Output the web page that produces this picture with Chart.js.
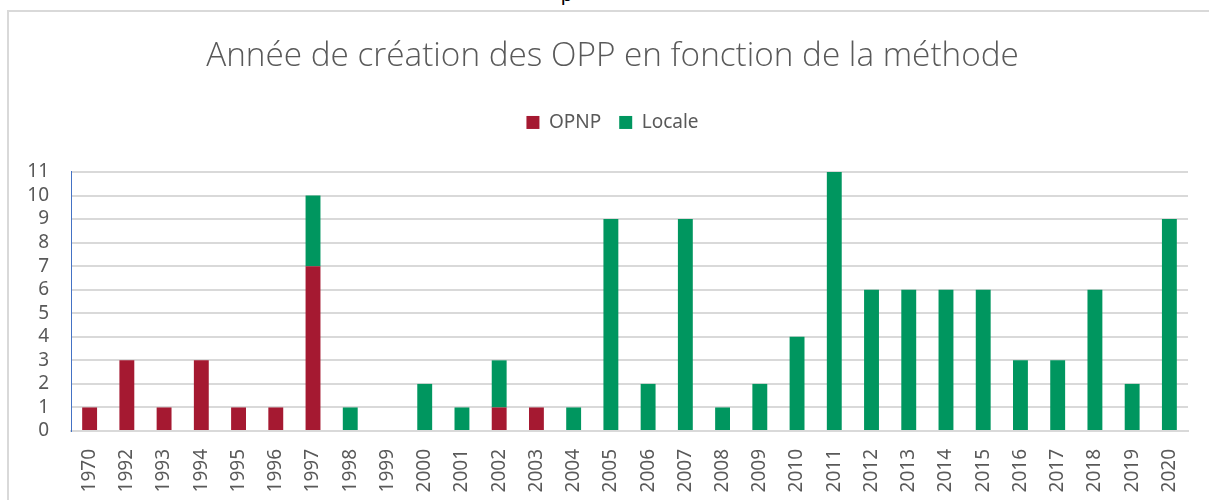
<!DOCTYPE html>
<html>
<head>
<meta charset="utf-8">
<script src="https://cdn.jsdelivr.net/npm/chart.js@4"></script>
<style>
  html, body { margin: 0; padding: 0; background: #fff; overflow: hidden; }
  #frame { position: absolute; left: 7px; top: 10px; width: 1300px; height: 600px; border: 2px solid #d9d9d9; }
  #cut { position: absolute; left: 561px; top: -17px; font: 20px "Liberation Sans", sans-serif; color: #000; }
  #wrap { position: absolute; left: 0; top: 0; }
</style>
</head>
<body>
<div id="cut">p</div>
<div id="frame"></div>
<div id="wrap"><canvas id="myChart" width="1209" height="500"></canvas></div>
<script>
var labels = ['1970', '1992', '1993', '1994', '1995', '1996', '1997', '1998', '1999', '2000',
  '2001', '2002', '2003', '2004', '2005', '2006', '2007', '2008', '2009', '2010',
  '2011', '2012', '2013', '2014', '2015', '2016', '2017', '2018', '2019', '2020'];
var opnp = [1, 3, 1, 3, 1, 1, 7, 0, 0, 0, 0, 1, 1, 0, 0, 0, 0, 0, 0, 0,
  0, 0, 0, 0, 0, 0, 0, 0, 0, 0];
var locale = [0, 0, 0, 0, 0, 0, 3, 1, 0, 2, 1, 2, 0, 1, 9, 2, 9, 1, 2, 4,
  11, 6, 6, 6, 6, 3, 3, 6, 2, 9];

var txt = '#595959';

// extra space under the legend
var legendGap = {
  id: 'legendGap',
  beforeInit: function (chart) {
    var fit = chart.legend.fit;
    chart.legend.fit = function () {
      fit.bind(chart.legend)();
      this.height += 30;
    };
  }
};

var ctx = document.getElementById('myChart');
var myChart = new Chart(ctx, {
  type: 'bar',
  data: {
    labels: labels,
    datasets: [{
      label: 'OPNP',
      data: opnp,
      backgroundColor: '#A51931',
    }, {
      label: 'Locale',
      data: locale,
      backgroundColor: '#00965F',
    }]
  },
  options: {
    responsive: false,
    devicePixelRatio: 1,
    animation: false,
    barPercentage: 0.4,
    categoryPercentage: 1,
    layout: { padding: { left: 21, right: 5, top: 0, bottom: 0 } },
    plugins: {
      tooltip: { enabled: false },
      title: {
        display: true,
        text: 'Année de création des OPP en fonction de la méthode',
        color: txt,
        font: { family: 'Open Sans', size: 33.3, weight: '300' },
        padding: { top: 37, bottom: 18 }
      },
      legend: {
        position: 'top',
        labels: {
          color: txt,
          boxWidth: 13,
          boxHeight: 13,
          padding: 18,
          font: { family: 'Noto Sans', size: 19 }
        }
      }
    },
    scales: {
      x: {
        stacked: true,
        grid: { display: false },
        border: { color: '#d9d9d9', width: 2 },
        ticks: {
          color: txt,
          autoSkip: false,
          minRotation: 90,
          maxRotation: 90,
          padding: 10,
          font: { family: 'Noto Sans', size: 19 }
        },
        afterFit: function (scale) { scale.height = 69; }
      },
      y: {
        stacked: true,
        min: 0,
        max: 11,
        grid: { color: '#d9d9d9', lineWidth: 2, drawTicks: false },
        border: { color: '#4472C4', width: 1 },
        ticks: {
          stepSize: 1,
          autoSkip: false,
          color: txt,
          padding: 22,
          font: { family: 'Noto Sans', size: 19 }
        },
        afterFit: function (scale) { scale.width = 50; }
      },
      yRight: {
        position: 'right',
        grid: { display: false, drawTicks: false },
        border: { display: false },
        ticks: { display: false },
        afterFit: function (scale) { scale.width = 16; }
      }
    }
  },
  plugins: [legendGap]
});
</script>
</body>
</html>
